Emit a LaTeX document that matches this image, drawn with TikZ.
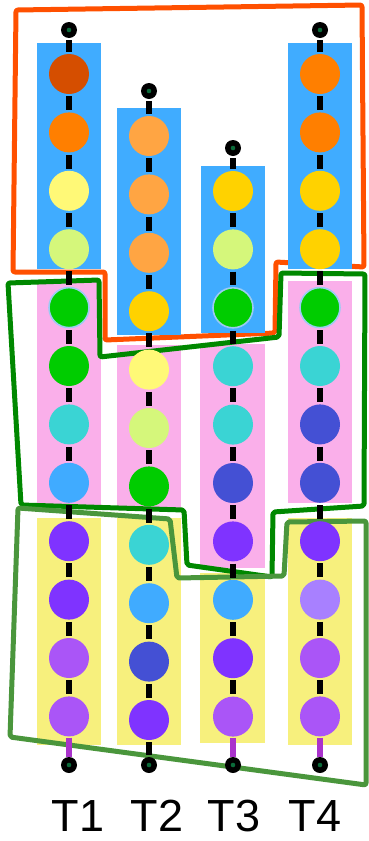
\documentclass[tikz,border=0pt]{standalone}
\usepackage{fontspec}
\setmainfont{Liberation Sans}

% bead colours
\definecolor{cRust}{HTML}{D54E00}
\definecolor{cOrange}{HTML}{FF7F00}
\definecolor{cPeach}{HTML}{FFA543}
\definecolor{cGold}{HTML}{FFD200}
\definecolor{cLemon}{HTML}{FFF977}
\definecolor{cLime}{HTML}{D5F77B}
\definecolor{cGreen}{HTML}{00CC00}
\definecolor{cCyan}{HTML}{3AD4D4}
\definecolor{cSky}{HTML}{40ABFF}
\definecolor{cIndigo}{HTML}{4450D4}
\definecolor{cViolet}{HTML}{7F33FF}
\definecolor{cLavender}{HTML}{A880FF}
\definecolor{cPurple}{HTML}{AA55F7}
\definecolor{cRing}{HTML}{9CCBF2}
\definecolor{cPin}{HTML}{0B6B3A}
\definecolor{cTail}{HTML}{AA33CC}
% band and outline colours
\definecolor{cBlue}{HTML}{40ACFF}
\definecolor{cPink}{HTML}{FAAFEA}
\definecolor{cYellow}{HTML}{F7F07D}
\definecolor{cFrame}{HTML}{FF5000}
\definecolor{cDeep}{HTML}{008800}
\definecolor{cMoss}{HTML}{4A963C}

\tikzset{
  bead/.style={circle, minimum size=40pt, inner sep=0pt},
  ring/.style={draw=cRing, line width=1.6pt},
  plain/.style={},
  pin/.style={circle, fill=black, minimum size=16pt, inner sep=0pt,
    path picture={\fill[cPin] (path picture bounding box.center) circle (2.3pt);}},
  link/.style={line width=6pt, shorten <=2pt, shorten >=2pt},
  tail/.style={line width=6pt, draw=cTail, shorten <=1pt},
  outline/.style={line width=5pt, line join=round, rounded corners=2pt},
}

\begin{document}
\begin{tikzpicture}[x=1pt, y=-1pt]
\useasboundingbox (0,0) rectangle (368,841);

% Orange outline (behind the bands)
\draw[outline, cFrame] (13,272) -- (16,10) -- (362,5) -- (364,267) -- (276,262)
  -- (275,333) -- (105,340) -- (105,272) -- cycle;

% Bands
\fill[cBlue] (37,43) rectangle (101,269);
\fill[cPink] (37,281) rectangle (101,505);
\fill[cYellow] (37,518) rectangle (101,745);

\fill[cBlue] (117,108) rectangle (181,335);
\fill[cPink] (117,345) rectangle (181,508);
\fill[cYellow] (117,518) rectangle (181,745);

\fill[cBlue] (201,166) rectangle (265,333);
\fill[cPink] (200,344) rectangle (265,568);
\fill[cYellow] (200,573) rectangle (265,743);

\fill[cBlue] (288,43) rectangle (352,269);
\fill[cPink] (288,281) rectangle (352,503);
\fill[cYellow] (288,518) rectangle (352,745);

% Green outlines
\draw[outline, cDeep] (8,283) -- (99,280) -- (100,357) -- (279,337) -- (281,273)
  -- (365,274) -- (364,506) -- (273,512) -- (272,577) -- (187,565) -- (184,510)
  -- (21,505) -- cycle;
\draw[outline, cMoss] (18,508) -- (170,519) -- (177,578) -- (284,576) -- (287,522)
  -- (366,521) -- (366,785) -- (10,737) -- cycle;

% Column T1
\node[pin] (T1-top) at (69,30) {};
\node[pin] (T1-bot) at (69,765) {};
\foreach \c/\s [count=\i] in {cRust/plain, cOrange/plain, cLemon/plain, cLime/plain,
    cGreen/ring, cGreen/plain, cCyan/plain, cSky/plain, cViolet/plain,
    cViolet/plain, cPurple/plain, cPurple/plain}
  \node[bead, fill=\c, \s] (T1-\i) at (69, 15.6+58.4*\i) {};
\draw[link] (T1-top) -- (T1-1);
\foreach \i [count=\j from 2] in {1,...,11}
  \draw[link] (T1-\i) -- (T1-\j);
\draw[tail] (T1-12) -- (T1-bot);

% Column T2
\node[pin] (T2-top) at (149,91) {};
\node[pin] (T2-bot) at (149,765) {};
\foreach \c/\s [count=\i] in {cPeach/plain, cPeach/plain, cPeach/plain, cGold/plain,
    cLemon/plain, cLime/plain, cGreen/plain, cCyan/plain, cSky/plain,
    cIndigo/plain, cViolet/plain}
  \node[bead, fill=\c, \s] (T2-\i) at (149, 77.6+58.4*\i) {};
\draw[link] (T2-top) -- (T2-1);
\foreach \i [count=\j from 2] in {1,...,10}
  \draw[link] (T2-\i) -- (T2-\j);
\draw[link] (T2-11) -- (T2-bot);

% Column T3
\node[pin] (T3-top) at (233,148) {};
\node[pin] (T3-bot) at (233,765) {};
\foreach \c/\s [count=\i] in {cGold/plain, cLime/plain, cGreen/ring, cCyan/plain,
    cCyan/plain, cIndigo/plain, cViolet/plain, cSky/plain, cViolet/plain,
    cPurple/plain}
  \node[bead, fill=\c, \s] (T3-\i) at (233, 132.6+58.4*\i) {};
\draw[link] (T3-top) -- (T3-1);
\foreach \i [count=\j from 2] in {1,...,9}
  \draw[link] (T3-\i) -- (T3-\j);
\draw[tail] (T3-10) -- (T3-bot);

% Column T4
\node[pin] (T4-top) at (320,30) {};
\node[pin] (T4-bot) at (320,765) {};
\foreach \c/\s [count=\i] in {cOrange/plain, cOrange/plain, cGold/plain, cGold/plain,
    cGreen/ring, cCyan/plain, cIndigo/plain, cIndigo/plain, cViolet/plain,
    cLavender/plain, cPurple/plain, cPurple/plain}
  \node[bead, fill=\c, \s] (T4-\i) at (320, 15.6+58.4*\i) {};
\draw[link] (T4-top) -- (T4-1);
\foreach \i [count=\j from 2] in {1,...,11}
  \draw[link] (T4-\i) -- (T4-\j);
\draw[tail] (T4-12) -- (T4-bot);

% Labels
\foreach \x/\t in {78/T1, 157/T2, 234/T3, 315/T4}
  \node[anchor=base, inner sep=0pt, font=\fontsize{45}{50}\selectfont] (lab-\t) at (\x,831) {\t};

\end{tikzpicture}
\end{document}
